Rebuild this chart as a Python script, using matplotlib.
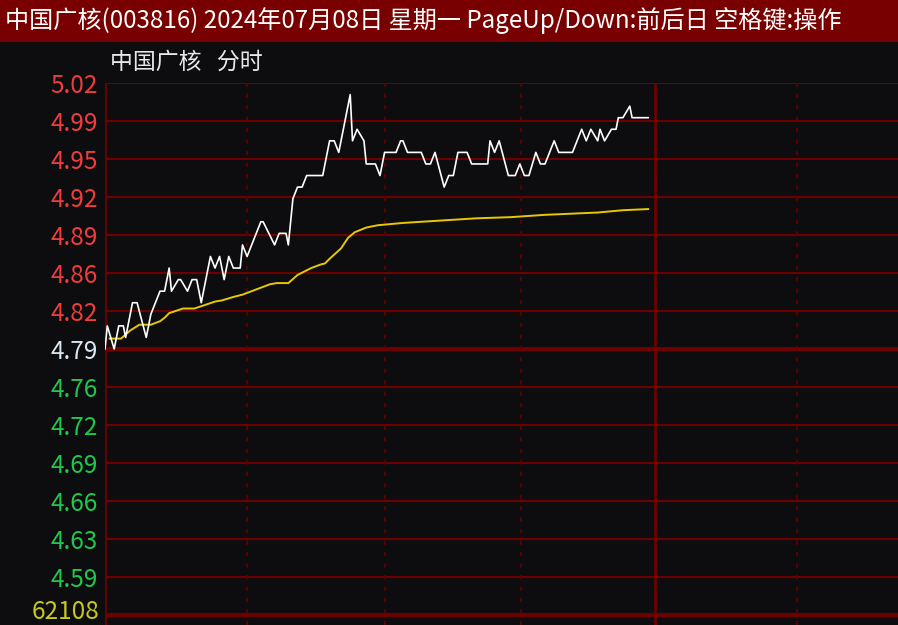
import matplotlib
matplotlib.use("Agg")
import matplotlib.pyplot as plt
from matplotlib.patches import Rectangle

plt.rcParams['font.family'] = ['Noto Sans CJK SC', 'DejaVu Sans']

title = "中国广核(003816) 2024年07月08日 星期一 PageUp/Down:前后日 空格键:操作"
subtitle = "中国广核   分时"

prev_close = 4.79
# gridline tick labels, top to bottom
price_labels = ["5.02", "4.99", "4.95", "4.92", "4.89", "4.86", "4.82", "4.79",
                "4.76", "4.72", "4.69", "4.66", "4.63", "4.59"]
vol_label = "62108"

# minute index / last price (vertices)
price_t = [0, 1, 4, 6, 8, 9, 10, 12, 14, 18,
           20, 22, 24, 26, 28, 29, 32, 33, 36, 38,
           40, 42, 46, 48, 50, 52, 54, 56, 59, 60,
           62, 68, 69, 74, 76, 79, 80, 82, 84, 86,
           88, 95, 96, 98, 100, 102, 104, 107, 108, 110,
           113, 114, 118, 120, 122, 127, 129, 130, 132, 138,
           140, 142, 144, 148, 150, 152, 154, 158, 160, 167,
           168, 170, 172, 176, 179, 181, 183, 185, 188, 190,
           192, 196, 198, 204, 208, 210, 212, 215, 216, 218,
           221, 223, 224, 226, 229, 230, 237]
price_v = [4.79, 4.81, 4.79, 4.81, 4.81, 4.80, 4.81, 4.83, 4.83, 4.80,
           4.82, 4.83, 4.84, 4.84, 4.86, 4.84, 4.85, 4.85, 4.84, 4.85,
           4.85, 4.83, 4.87, 4.86, 4.87, 4.85, 4.87, 4.86, 4.86, 4.88,
           4.87, 4.90, 4.90, 4.88, 4.89, 4.89, 4.88, 4.92, 4.93, 4.93,
           4.94, 4.94, 4.95, 4.97, 4.97, 4.96, 4.98, 5.01, 4.97, 4.98,
           4.97, 4.95, 4.95, 4.94, 4.96, 4.96, 4.97, 4.97, 4.96, 4.96,
           4.95, 4.95, 4.96, 4.93, 4.94, 4.94, 4.96, 4.96, 4.95, 4.95,
           4.97, 4.96, 4.97, 4.94, 4.94, 4.95, 4.94, 4.94, 4.96, 4.95,
           4.95, 4.97, 4.96, 4.96, 4.98, 4.97, 4.98, 4.97, 4.98, 4.97,
           4.98, 4.98, 4.99, 4.99, 5.00, 4.99, 4.99]

# average price line
avg_t = [2, 7, 11, 15, 20, 24, 26, 28, 31, 34,
         39, 42, 45, 48, 51, 56, 60, 64, 68, 72,
         75, 80, 84, 90, 94, 96, 98, 103, 106, 109,
         114, 119, 130, 146, 162, 177, 192, 215, 226, 237]
avg_v = [4.799, 4.799, 4.806, 4.811, 4.811, 4.814, 4.817, 4.821, 4.823, 4.825,
         4.825, 4.827, 4.829, 4.831, 4.832, 4.835, 4.837, 4.840, 4.843, 4.846,
         4.847, 4.847, 4.854, 4.860, 4.863, 4.864, 4.868, 4.877, 4.886, 4.891,
         4.895, 4.897, 4.899, 4.901, 4.903, 4.904, 4.906, 4.908, 4.910, 4.911]

bg = "#0d0d0f"
grid_c = "#6e0000"

W, H = 898, 625
fig = plt.figure(figsize=(W / 100, H / 100), dpi=100, facecolor=bg)

# title bar
fig.patches.append(Rectangle((0, 1 - 42 / H), 1, 42 / H, transform=fig.transFigure,
                             facecolor="#780000", edgecolor="none", zorder=0))
fig.text(5 / W, 1 - 21 / H, title, color="white", fontsize=17.4, va="center", ha="left")
fig.text(110 / W, 1 - 62 / H, subtitle, color="#e8e8e8", fontsize=16.5, va="center", ha="left")

ax = fig.add_axes([105 / W, 0, (W - 105) / W, (H - 83) / H])
ax.set_facecolor(bg)

step = 0.23 / 7
top = prev_close + 7 * step
bottom = prev_close - step * (H - 349) / 38.0
ax.set_ylim(bottom, top)
ax.set_xlim(0, 240 * (W - 105) / 550)

levels = [prev_close + k * step for k in range(7, -8, -1)]
for i, lv in enumerate(levels):
    thick = (i == 7 or i == 14)
    ax.axhline(lv, color=grid_c, lw=3 if thick else 1.5, zorder=1)

# vertical session lines
for xv in [62, 122.2, 181.5, 302]:
    ax.axvline(xv, color="#5a0000", lw=1.5, linestyle=(0, (2, 3.5)), zorder=1)
ax.axvline(0, color=grid_c, lw=2, zorder=1)
ax.axvline(240, color=grid_c, lw=2, zorder=1)

ax.plot(avg_t, avg_v, color="#e8c800", lw=1.4, zorder=3)
ax.plot(price_t, price_v, color="white", lw=1.2, zorder=4)

for s in ax.spines.values():
    s.set_visible(False)
ax.set_xticks([])
ax.set_yticks(levels[:-1])
ax.set_yticklabels(price_labels, fontsize=17.5)
ax.tick_params(axis="y", length=0, pad=5)
for i, lbl in enumerate(ax.get_yticklabels()):
    if i < 7:
        lbl.set_color("#f03c3c")
    elif i == 7:
        lbl.set_color("#dce6f0")
    else:
        lbl.set_color("#1ec84e")

# volume scale label sits on the bottom divider
fig.text(99 / W, 1 - 612 / H, vol_label, color="#c8c81e", fontsize=17.5,
         ha="right", va="center")

fig.savefig("out.png", dpi=100, facecolor=bg)
